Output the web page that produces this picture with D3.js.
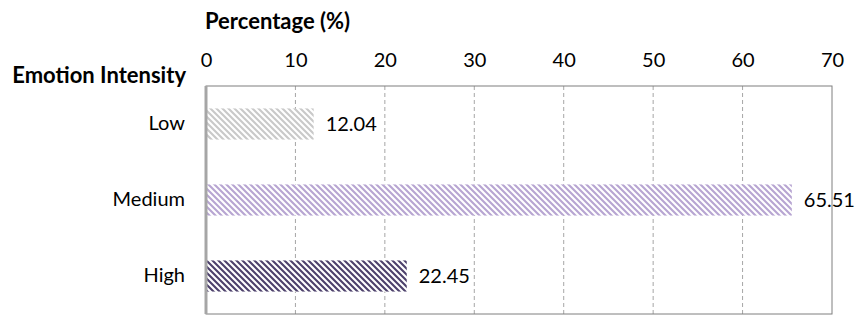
<!DOCTYPE html>
<html>
<head>
<meta charset="utf-8">
<script src="https://cdn.jsdelivr.net/npm/d3@7"></script>
<style>
  body { margin: 0; background: #fff; }
  text { font-family: Lato, "Open Sans", sans-serif; fill: #000; }
</style>
</head>
<body>
<div id="container"></div>
<script>
const categories = ["Low", "Medium", "High"];
const percentages = [12.04, 65.51, 22.45];
const barColors = ["#c9c9c9", "#b7a5d2", "#4d416c"];
const tickValues = [0, 10, 20, 30, 40, 50, 60, 70];

const w = 859;
const h = 316;
const margin = {top: 86, left: 206, bottom: 2, right: 27};
const graphWidth = w - margin.left - margin.right;
const graphHeight = h - margin.top - margin.bottom;

const svg = d3.select("#container").append("svg").attr("width", w).attr("height", h);

// hatch patterns, one per bar
const defs = svg.append("defs");
categories.forEach((c, i) => {
  const p = defs.append("pattern")
    .attr("id", "hatch" + i)
    .attr("patternUnits", "userSpaceOnUse")
    .attr("width", 6).attr("height", 6);
  p.append("rect").attr("width", 6).attr("height", 6).attr("fill", "#fff");
  p.append("path")
    .attr("d", "M-1,-1 L7,7 M-4,2 L1,7 M5,-1 L10,4")
    .attr("stroke", barColors[i])
    .attr("stroke-width", 2.1);
});

const graph = svg.append("g").attr("transform", `translate(${margin.left}, ${margin.top})`);

const xScale = d3.scaleLinear().domain([0, 70]).range([0, graphWidth]);
const yScale = d3.scaleBand().domain(categories).range([0, graphHeight]).paddingInner(0.59).paddingOuter(0.295);

// dashed gridlines
graph.selectAll(".grid")
  .data(tickValues.slice(1, -1))
  .enter()
  .append("line")
    .attr("x1", d => xScale(d)).attr("x2", d => xScale(d))
    .attr("y1", 0).attr("y2", graphHeight)
    .attr("stroke", "#a6a6a6")
    .attr("stroke-width", 1)
    .attr("stroke-dasharray", "4,3");

// top axis labels
const xAxis = d3.axisTop(xScale).tickValues(tickValues).tickSize(0).tickPadding(19);
const xAxisGroup = graph.append("g").call(xAxis);
xAxisGroup.select(".domain").remove();
xAxisGroup.selectAll("text").style("font-size", "20px").attr("fill", "#000");

// y labels
const yAxis = d3.axisLeft(yScale).tickSize(0).tickPadding(21);
const yAxisGroup = graph.append("g").call(yAxis);
yAxisGroup.select(".domain").remove();
yAxisGroup.selectAll("text").style("font-size", "20px").attr("fill", "#000");

// bars
graph.selectAll(".bar")
  .data(percentages)
  .enter()
  .append("rect")
    .attr("x", 0)
    .attr("y", (d, i) => yScale(categories[i]))
    .attr("width", d => xScale(d))
    .attr("height", yScale.bandwidth())
    .attr("fill", (d, i) => `url(#hatch${i})`);

// value labels
graph.selectAll(".val")
  .data(percentages)
  .enter()
  .append("text")
    .attr("x", d => xScale(d) + 12)
    .attr("y", (d, i) => yScale(categories[i]) + yScale.bandwidth() / 2)
    .attr("dy", "0.35em")
    .style("font-size", "20px")
    .text(d => d.toFixed(2));

// frame
graph.append("rect")
  .attr("x", 0).attr("y", 0)
  .attr("width", graphWidth).attr("height", graphHeight)
  .attr("fill", "none")
  .attr("stroke", "#7f7f7f")
  .attr("stroke-width", 1);
graph.append("line")
  .attr("x1", 0).attr("x2", 0).attr("y1", 0).attr("y2", graphHeight)
  .attr("stroke", "#a6a6a6").attr("stroke-width", 3);

svg.append("text")
  .attr("x", 205).attr("y", 29)
  .style("font-size", "22px").style("font-weight", "bold")
  .text("Percentage (%)");

svg.append("text")
  .attr("x", 186).attr("y", 83)
  .attr("text-anchor", "end")
  .style("font-size", "22px").style("font-weight", "bold")
  .text("Emotion Intensity");
</script>
</body>
</html>
